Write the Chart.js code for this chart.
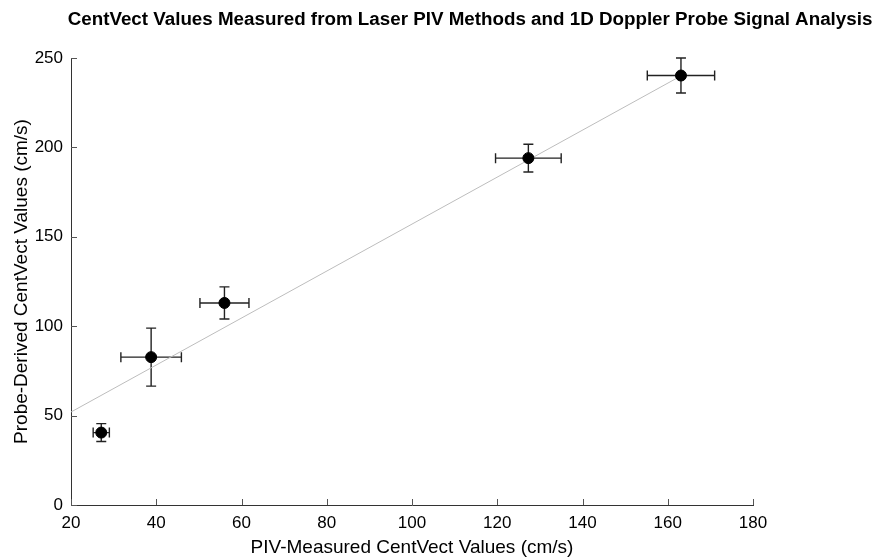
<!DOCTYPE html>
<html>
<head>
<meta charset="utf-8">
<script src="https://cdn.jsdelivr.net/npm/chart.js@4/dist/chart.umd.min.js"></script>
<style>
html,body{margin:0;padding:0;background:#fff;}
#wrap{width:887px;height:559px;}
</style>
</head>
<body>
<div id="wrap"><canvas id="c" width="887" height="559"></canvas></div>
<script>
const chartTitle = "CentVect Values Measured from Laser PIV Methods and 1D Doppler Probe Signal Analysis";
const xLabel = "PIV-Measured CentVect Values (cm/s)";
const yLabel = "Probe-Derived CentVect Values (cm/s)";
const pivX = [27.1, 38.8, 56.0, 127.3, 163.1];
const probeY = [40.5, 82.7, 113.0, 194.0, 240.2];
const xErr = [1.9, 7.1, 5.75, 7.7, 7.9];
const yErr = [5.0, 16.2, 9.0, 7.8, 9.8];
const fitX = [20, 163.1];
const fitY = [52, 240];

const FONT = "'Liberation Sans', Arial, Helvetica, sans-serif";

const errorBars = {
  id: 'errorBars',
  beforeDatasetsDraw(chart) {
    const {ctx, scales: {x, y}} = chart;
    ctx.save();
    ctx.strokeStyle = '#222';
    ctx.lineWidth = 1.4;
    const cap = 5;
    for (let i = 0; i < pivX.length; i++) {
      const cx = x.getPixelForValue(pivX[i]);
      const cy = y.getPixelForValue(probeY[i]);
      const xl = x.getPixelForValue(pivX[i] - xErr[i]);
      const xr = x.getPixelForValue(pivX[i] + xErr[i]);
      const yt = y.getPixelForValue(probeY[i] + yErr[i]);
      const yb = y.getPixelForValue(probeY[i] - yErr[i]);
      ctx.beginPath();
      ctx.moveTo(xl, cy); ctx.lineTo(xr, cy);
      ctx.moveTo(xl, cy - cap); ctx.lineTo(xl, cy + cap);
      ctx.moveTo(xr, cy - cap); ctx.lineTo(xr, cy + cap);
      ctx.moveTo(cx, yt); ctx.lineTo(cx, yb);
      ctx.moveTo(cx - cap, yt); ctx.lineTo(cx + cap, yt);
      ctx.moveTo(cx - cap, yb); ctx.lineTo(cx + cap, yb);
      ctx.stroke();
    }
    ctx.restore();
  }
};

const decor = {
  id: 'decor',
  afterDraw(chart) {
    const {ctx, scales: {x, y}} = chart;
    ctx.save();
    ctx.strokeStyle = '#555';
    ctx.lineWidth = 1;
    const len = 6;
    x.ticks.forEach((t, i) => {
      const px = Math.round(x.getPixelForTick(i)) + 0.5;
      ctx.beginPath();
      ctx.moveTo(px, y.bottom); ctx.lineTo(px, y.bottom - len);
      ctx.stroke();
    });
    y.ticks.forEach((t, i) => {
      const py = Math.round(y.getPixelForTick(i)) + 0.5;
      ctx.beginPath();
      ctx.moveTo(x.left, py); ctx.lineTo(x.left + len, py);
      ctx.stroke();
    });
    ctx.fillStyle = '#000';
    ctx.font = 'bold 18.8px ' + FONT;
    ctx.textAlign = 'center';
    ctx.textBaseline = 'middle';
    ctx.fillText(chartTitle, 470, 20);
    ctx.restore();
  }
};

new Chart(document.getElementById('c'), {
  type: 'scatter',
  data: {
    datasets: [
      {
        type: 'line',
        data: fitX.map((v, i) => ({x: v, y: fitY[i]})),
        borderColor: '#bdbdbd',
        borderWidth: 1,
        pointRadius: 0,
        fill: false,
        order: 2
      },
      {
        data: pivX.map((v, i) => ({x: v, y: probeY[i]})),
        backgroundColor: '#000',
        borderColor: '#000',
        pointRadius: 5.5,
        pointHoverRadius: 5.5,
        order: 1
      }
    ]
  },
  options: {
    responsive: false,
    animation: false,
    events: [],
    layout: {padding: {left: 0, right: 134, top: 58, bottom: 0}},
    plugins: {legend: {display: false}, title: {display: false}, tooltip: {enabled: false}},
    scales: {
      x: {
        type: 'linear',
        min: 20, max: 180,
        ticks: {stepSize: 20, color: '#000', font: {family: FONT, size: 17}, padding: 8, maxRotation: 0},
        grid: {display: true, drawOnChartArea: false, drawTicks: false},
        border: {display: true, color: '#333', width: 1},
        title: {display: true, text: xLabel, color: '#000', font: {family: FONT, size: 19}, padding: {top: 0, bottom: 0}},
        afterFit(s) { s.height = 54; }
      },
      y: {
        type: 'linear',
        min: 0, max: 250,
        ticks: {stepSize: 50, color: '#000', font: {family: FONT, size: 17}, padding: 8},
        grid: {display: true, drawOnChartArea: false, drawTicks: false},
        border: {display: true, color: '#333', width: 1},
        title: {display: true, text: yLabel, color: '#000', font: {family: FONT, size: 19}, padding: {top: 10, bottom: 0}},
        afterFit(s) { s.width = 71; }
      }
    }
  },
  plugins: [errorBars, decor]
});
</script>
</body>
</html>
